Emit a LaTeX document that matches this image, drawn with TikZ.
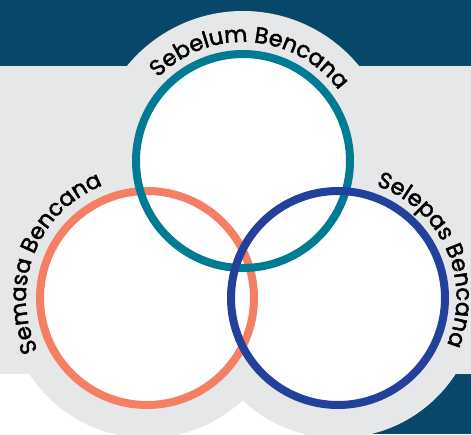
\documentclass[tikz,border=0pt]{standalone}
\usepackage{fontspec}
\usepackage{tikz}
\usetikzlibrary{decorations.text}
\newfontfamily\arcfont{Poppins}[FakeBold=2]
\newcommand{\labelfont}{\arcfont\fontsize{22.5}{22.5}\selectfont}
\definecolor{bgteal}{HTML}{07476A}
\definecolor{halogray}{HTML}{E6E7E9}
\definecolor{ringteal}{HTML}{007B94}
\definecolor{ringorange}{HTML}{F47F64}
\definecolor{ringblue}{HTML}{23409A}

\begin{document}
\begin{tikzpicture}[x=1pt,y=1pt,
    ring/.style={line width=8pt},
    arclabel/.style={decorate,decoration={text along path,text align=center,
        text={|\labelfont|#1}}}]
                \useasboundingbox (0,0) rectangle (471,434);
                % background bands
                \fill[bgteal] (0,0) rectangle (471,434);
                \fill[halogray] (0,60) rectangle (471,368);
                \fill[white] (0,0) rectangle (360,60);
                % centres of the three rings
                \coordinate (sebelum) at (243,273);
                \coordinate (semasa) at (147,136);
                \coordinate (selepas) at (338,136);
                % gray halos
                \fill[halogray] (sebelum) circle [radius=150];
                \fill[halogray] (semasa) circle [radius=140];
                \fill[halogray] (selepas) circle [radius=140];
                % white insides
                \fill[white] (sebelum) circle [radius=107];
                \fill[white] (semasa) circle [radius=107];
                \fill[white] (selepas) circle [radius=107];
                % rings
                \draw[ring,ringorange] (semasa) circle [radius=107];
                \draw[ring,ringteal] (sebelum) circle [radius=107];
                \draw[ring,ringblue] (selepas) circle [radius=107];
                % labels along the rings
                \path[arclabel=Sebelum Bencana] (sebelum) ++(166:119)
                    arc [start angle=166, end angle=6, radius=119];
                \path[arclabel=Semasa Bencana] (semasa) ++(238.5:121)
                    arc [start angle=238.5, end angle=78.5, radius=121];
                \path[arclabel=Selepas Bencana] (selepas) ++(104:118.5)
                    arc [start angle=104, end angle=-56, radius=118.5];
            \end{tikzpicture}
\end{document}
